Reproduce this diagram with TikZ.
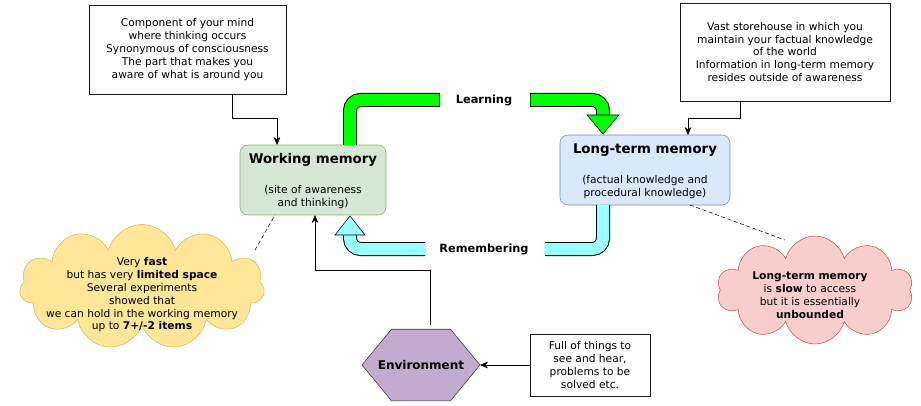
\documentclass[tikz,border=0pt]{standalone}
\usepackage{fontspec}
\setmainfont{DejaVu Sans}
\usetikzlibrary{shapes.symbols,shapes.geometric,arrows.meta}
\definecolor{lcyan}{RGB}{153,255,255}
\begin{document}
\begin{tikzpicture}[x=0.75pt,y=-0.75pt,
  txt/.style={font=\fontsize{8}{9.6}\selectfont,align=center},
  conn/.style={-{Stealth[length=6pt,width=5pt]}},
  outer/.style={line width=10.5pt,rounded corners=8pt},
  inner/.style={line width=9pt,rounded corners=8pt},
]
\useasboundingbox (0,0) rectangle (921,406);
% nodes
\node[draw=black!90,minimum width=197*0.75pt,minimum height=89*0.75pt,txt] (tl) at (187.5,49.5)
 {Component of your mind\\where thinking occurs\\Synonymous of consciousness\\The part that makes you\\aware of what is around you};
\node[draw=black!90,minimum width=210*0.75pt,minimum height=98*0.75pt,txt] (tr) at (785,52)
 {Vast storehouse in which you\\maintain your factual knowledge\\of the world\\Information in long-term memory\\resides outside of awareness};
\node[fill={rgb,255:red,213;green,232;blue,212},draw={rgb,255:red,130;green,179;blue,102},rounded corners=6pt,minimum width=146*0.75pt,minimum height=70*0.75pt] (wm) at (313,180) {};
\node[font=\fontsize{10}{12}\selectfont\bfseries] (wmt) at (313,160) {Working memory};
\node[txt] (wms) at (313,197) {(site of awareness\\and thinking)};
\node[fill={rgb,255:red,218;green,232;blue,252},draw={rgb,255:red,108;green,142;blue,191},rounded corners=6pt,minimum width=170*0.75pt,minimum height=70*0.75pt] (ltm) at (645,170) {};
\node[font=\fontsize{10}{12}\selectfont\bfseries] (ltmt) at (645,150) {Long-term memory};
\node[txt] (ltms) at (645,187) {(factual knowledge and\\procedural knowledge)};
\node[cloud,cloud puffs=11,aspect=2,draw={rgb,255:red,214;green,182;blue,86},fill={rgb,255:red,255;green,230;blue,153},minimum width=245*0.75pt,minimum height=125*0.75pt,inner sep=0pt] (yc) at (142,287) {};
\node[txt] (yct) at (142,295) {Very \textbf{fast}\\but has very \textbf{limited space}\\Several experiments\\showed that\\we can hold in the working memory\\up to \textbf{7+/-2 items}};
\node[cloud,cloud puffs=10,aspect=1.8,draw={rgb,255:red,184;green,84;blue,80},fill={rgb,255:red,248;green,206;blue,204},minimum width=196*0.75pt,minimum height=108*0.75pt,inner sep=0pt] (pc) at (815,290) {};
\node[txt] (pct) at (810,295) {\textbf{Long-term memory}\\is \textbf{slow} to access\\but it is essentially\\\textbf{unbounded}};
\node[regular polygon,regular polygon sides=6,draw=black!80,fill={rgb,255:red,195;green,171;blue,208},minimum size=118*0.75pt,inner sep=0pt,yscale=0.7] (env) at (421,365) {};
\node[font=\fontsize{9}{11}\selectfont\bfseries] (envt) at (421,365) {Environment};
\node[draw=black!90,minimum width=120*0.75pt,minimum height=62*0.75pt,txt] (fb) at (590,365) {Full of things to\\see and hear,\\problems to be\\solved etc.};
% connectors
\draw[conn] (tl.south -| 232,0) -- (232,118) -- (277,118) -- (277,145);
\draw[conn] (tr.south -| 740,0) -- (740,118) -- (688,118) -- (688,135);
\draw[conn] (430,325) -- (430,270) -- (315,270) -- (315,215);
\draw[conn] (fb.west) -- (480,365);
\draw[densely dashed] (255,250) -- (275,215);
\draw[densely dashed] (690,205) -- (785,240);
% flow arrows
\draw[outer] (350,145) -- (350,100) -- (440,100);
\draw[inner,green] (350,145.5) -- (350,100) -- (439.3,100);
\draw[outer] (530,100) -- (603,100) -- (603,117);
\draw[inner,green] (530.7,100) -- (603,100) -- (603,118);
\draw[fill=green] (587,115) -- (619,115) -- (603,134) -- cycle;
\node[font=\fontsize{8.5}{10}\selectfont\bfseries] (lrn) at (484,100) {Learning};
\draw[outer] (603,205) -- (603,249) -- (545,249);
\draw[inner,lcyan] (603,204.5) -- (603,249) -- (544.3,249);
\draw[outer] (425,249) -- (350,249) -- (350,234);
\draw[inner,lcyan] (425.7,249) -- (350,249) -- (350,233);
\draw[fill=lcyan] (335,235) -- (365,235) -- (350,216) -- cycle;
\node[font=\fontsize{8.5}{10}\selectfont\bfseries] (rmb) at (484,249) {Remembering};
\end{tikzpicture}
\end{document}
